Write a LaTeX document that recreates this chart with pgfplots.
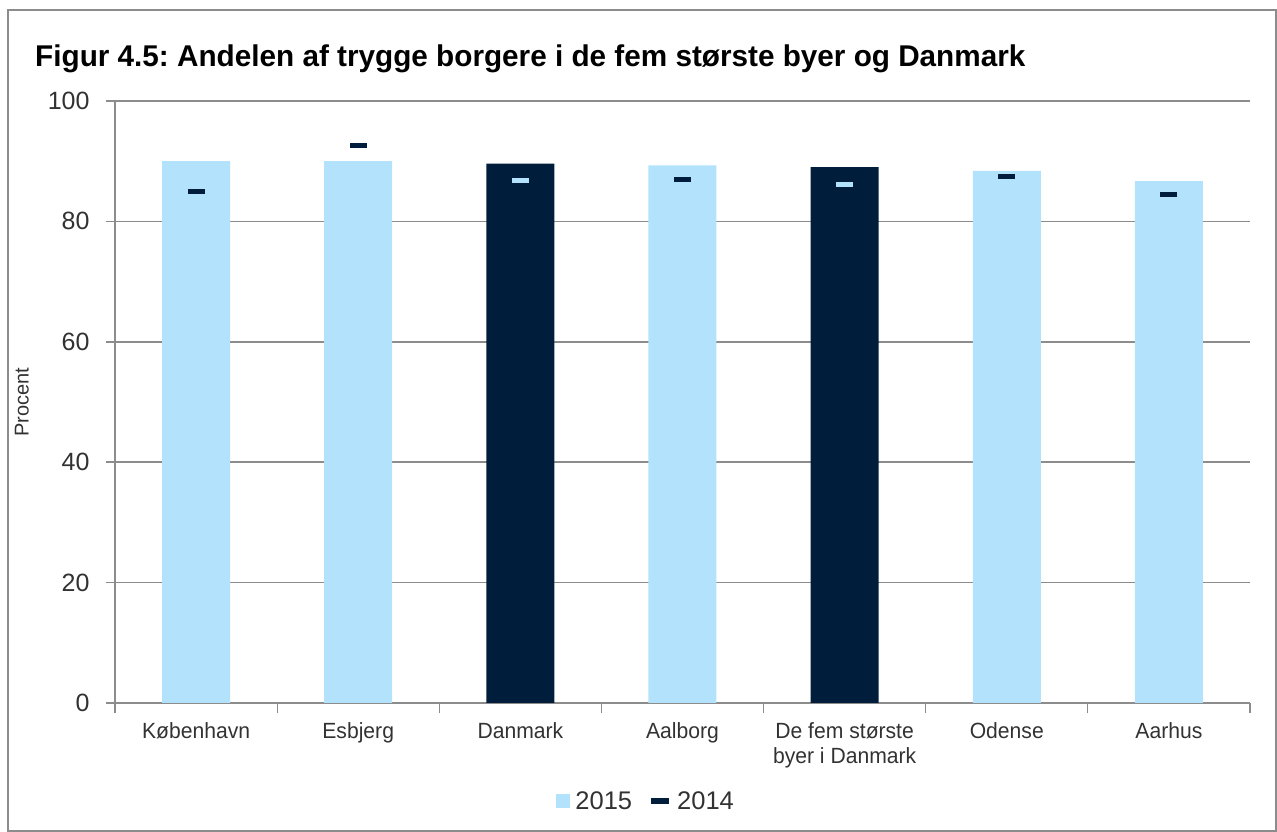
\documentclass[border=0pt]{standalone}
\usepackage{pgfplots}
\pgfplotsset{compat=1.18}
\usepackage{fontspec}
\setmainfont{Liberation Sans}
\newfontfamily\titlefont[FakeStretch=0.99]{Liberation Sans}
\newfontfamily\narrowfont[FakeStretch=0.96]{Liberation Sans}
\definecolor{light}{RGB}{179,226,252}
\definecolor{navy}{RGB}{0,30,60}
\definecolor{gridgray}{RGB}{140,140,140}
\definecolor{txt}{RGB}{50,50,50}
\frenchspacing
\begin{document}
\begin{tikzpicture}
\useasboundingbox (0pt,0pt) rectangle (1277pt,832pt);
\draw[gridgray, line width=1.5pt] (8pt,1pt) rectangle (1276pt,822pt);
\node[anchor=base west, inner sep=0pt] at (35pt,765pt) {\titlefont\bfseries\fontsize{30}{36}\selectfont Figur 4.5: Andelen af trygge borgere i de fem største byer og Danmark};
\begin{axis}[
  at={(115pt,129pt)}, anchor=south west, scale only axis,
  width=1135pt, height=602pt,
  xmin=-0.5, xmax=6.5, ymin=0, ymax=100,
  ytick={0,20,...,100},
  xtick={0,...,6},
  xticklabels={København, Esbjerg, Danmark, Aalborg, {De fem største\\byer i Danmark}, Odense, Aarhus},
  minor xtick={-0.5,0.5,...,6.5},
  major x tick style={draw=none},
  minor x tick style={draw=gridgray, line width=1.2pt},
  y tick style={draw=gridgray, line width=1.5pt},
  tick align=outside, major tick length=9pt, minor tick length=10pt,
  axis x line*=bottom, axis y line*=left,
  axis line style={draw=gridgray, line width=1.5pt, -},
  ymajorgrids, grid style={draw=gridgray, line width=1.5pt},
  yticklabel style={font=\fontsize{25}{30}\selectfont, text=txt, xshift=-13pt},
  xticklabel style={font=\narrowfont\fontsize{22}{25}\selectfont, text=txt, align=center, yshift=-7pt},
  /pgf/number format/assume math mode=true,
  ylabel={Procent},
  every axis y label/.style={at={(axis description cs:-0.082,0.5)}, rotate=90, anchor=center, font=\fontsize{20}{24}\selectfont, text=txt},
  legend style={at={(axis description cs:0.468,-0.163)}, anchor=center, draw=none, fill=none, legend columns=2, font=\fontsize{25.5}{30}\selectfont, text=txt, /tikz/every even column/.append style={column sep=14pt}, /tikz/every odd column/.append style={column sep=3pt}, legend cell align=left},
]
\addplot[ybar, bar width=68pt, bar shift=0pt, fill=light, draw=none,
  legend image code/.code={\fill[light] (0pt,-7pt) rectangle (14pt,7pt);}]
  coordinates {(0,90.0) (1,90.0) (3,89.3) (5,88.4) (6,86.7)};
\addlegendentry{2015}
\addplot[ybar, bar width=68pt, bar shift=0pt, fill=navy, draw=none, forget plot]
  coordinates {(2,89.6) (4,89.0)};
\addplot[only marks, mark=-, mark size=8.5pt, mark options={draw=navy, line width=5pt},
  legend image code/.code={\draw[navy, line width=6pt] (0pt,0pt) -- (18pt,0pt);}]
  coordinates {(0,84.9) (1,92.6) (3,86.9) (5,87.5) (6,84.4)};
\addlegendentry{2014}
\addplot[only marks, mark=-, mark size=8.5pt, mark options={draw=light, line width=5pt}, forget plot]
  coordinates {(2,86.8) (4,86.2)};
\end{axis}
\end{tikzpicture}
\end{document}
